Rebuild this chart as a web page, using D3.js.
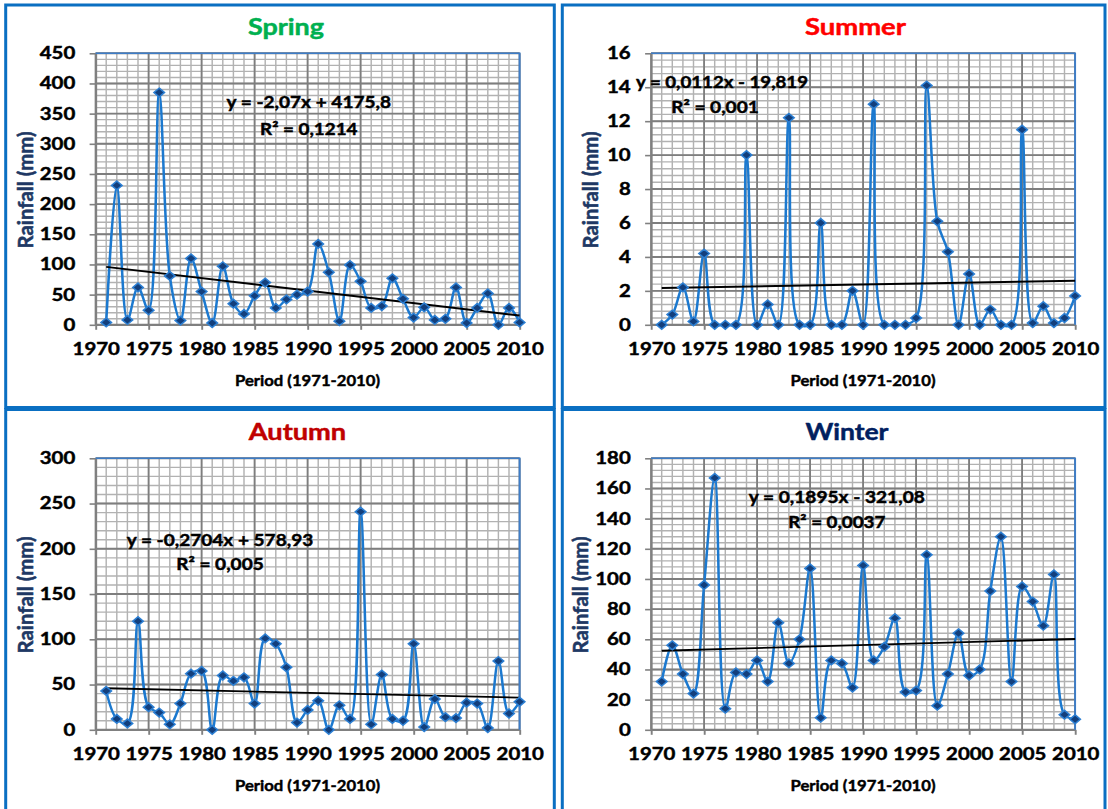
<!DOCTYPE html>
<html><head><meta charset="utf-8">
<script src="https://cdn.jsdelivr.net/npm/d3@7/dist/d3.min.js"></script>
<style>
html,body{margin:0;padding:0;background:#fff;}
svg{display:block;}
</style></head><body>
<svg id="c" width="1108" height="809"></svg>
<script>
// ---------- data ----------
const years = [1971,1972,1973,1974,1975,1976,1977,1978,1979,1980,
               1981,1982,1983,1984,1985,1986,1987,1988,1989,1990,
               1991,1992,1993,1994,1995,1996,1997,1998,1999,2000,
               2001,2002,2003,2004,2005,2006,2007,2008,2009,2010];
const spring = [4,231,8,62,24,385,81,7,110,55,3,97,35,18,48,70,28,42,50,55,
                134,87,6,99,72,28,31,77,43,12,29,8,10,62,3,28,52,0,28,4];
const summer = [0,0.6,2.2,0.2,4.2,0,0,0,10.0,0,1.2,0,12.2,0,0,6.0,0,0,2.0,0,
                13.0,0,0,0,0.4,14.1,6.1,4.3,0,3.0,0,0.9,0,0,11.5,0.1,1.1,0.1,0.4,1.7];
const autumn = [43,12,7,120,25,19,6,29,62,65,0,60,54,58,29,101,95,69,8,22,
                32,0,27,12,241,6,61,12,10,95,3,34,14,13,30,29,2,76,18,31];
const winter = [32,56,37,24,96,167,14,38,37,46,32,71,44,60,107,8,46,44,28,109,
                46,55,74,25,26,116,16,37,64,36,40,92,128,32,95,85,69,103,10,7];
const seasonTitles = ["Spring","Summer","Autumn","Winter"];
const eqLines = ["y = -2,07x + 4175,8","y = 0,0112x - 19,819","y = -0,2704x + 578,93","y = 0,1895x - 321,08"];
const r2Lines = ["R² = 0,1214","R² = 0,001","R² = 0,005","R² = 0,0037"];
const yMaxes = [450,16,300,180];
const ySteps = [50,2,50,20];
const xTicks = [1970,1975,1980,1985,1990,1995,2000,2005,2010];
const xLabel = "Period (1971-2010)";
const yLabel = "Rainfall (mm)";

// ---------- layout ----------
const SX = 1.2;              // horizontal stretch of the whole picture
const X = v => v / SX;
const FONT = "Lato, 'Open Sans', sans-serif";
const series = [spring, summer, autumn, winter];
const layout = [
  {col:0,row:0,color:"#00B050",titleX:286,titleW:76, eqX1:308.8,eqX2:308.8,eqY1:102,eqY2:129,eqW1:164.5,eqW2:97.5,ytX:25},
  {col:1,row:0,color:"#FF0000",titleX:300,titleW:101,eqX1:166.5,eqX2:159.5,eqY1:82, eqY2:107,eqW1:172, eqW2:87.5,ytX:35},
  {col:0,row:1,color:"#C00000",titleX:297.5,titleW:97.4,eqX1:220,eqX2:220,eqY1:135,eqY2:159,eqW1:186.5,eqW2:87.5,ytX:25},
  {col:1,row:1,color:"#002060",titleX:291.5,titleW:83,eqX1:281.3,eqX2:281.3,eqY1:92,eqY2:117,eqW1:176,eqW2:97,ytX:25}
];
const PL = 95.6, PR = 519.6, PT = 53.3, PB = 324.8;

const svg = d3.select("#c");
svg.append("rect").attr("width",1108).attr("height",809).attr("fill","#fff");

// panel frames (unstretched)
const frames = [[5.7,5,554.3,407.5],[562.3,5,1105,407.5],[5.7,409.5,554.3,820],[562.3,409.5,1105,820]];
frames.forEach(f => svg.append("rect")
  .attr("x",f[0]).attr("y",f[1]).attr("width",f[2]-f[0]).attr("height",f[3]-f[1])
  .attr("fill","none").attr("stroke","#0A6FC2").attr("stroke-width",3));

const root = svg.append("g").attr("transform",`scale(${SX},1)`);

function boldText(sel, size, color) {
  return sel.attr("font-family",FONT).attr("font-weight",700).attr("font-size",size)
    .attr("fill",color).attr("stroke",color).attr("stroke-width",0.45)
    .attr("stroke-linejoin","round");
}

series.forEach((vals, i) => {
  const L = layout[i];
  const g = root.append("g").attr("transform",`translate(${X(L.col*555.5)},${L.row*405})`);
  const x = d3.scaleLinear().domain([1970,2010]).range([X(PL),X(PR)]);
  const y = d3.scaleLinear().domain([0,yMaxes[i]]).range([PB,PT]);
  const step = ySteps[i];
  const yTicks = d3.range(0, yMaxes[i] + step/2, step);
  const yMinor = d3.range(0, yMaxes[i] + step/10, step/5);
  const xMinor = d3.range(1970, 2011, 1);

  // minor grid
  g.append("g").selectAll("line").data(xMinor).join("line")
    .attr("x1",d=>x(d)).attr("x2",d=>x(d)).attr("y1",PT).attr("y2",PB)
    .attr("stroke","#B2B2B2").attr("stroke-width",1.2);
  g.append("g").selectAll("line").data(yMinor).join("line")
    .attr("x1",X(PL)).attr("x2",X(PR)).attr("y1",d=>y(d)).attr("y2",d=>y(d))
    .attr("stroke","#B2B2B2").attr("stroke-width",1.4);
  // major grid
  g.append("g").selectAll("line").data(xTicks).join("line")
    .attr("x1",d=>x(d)).attr("x2",d=>x(d)).attr("y1",PT).attr("y2",PB)
    .attr("stroke","#7E7E7E").attr("stroke-width",1.5);
  g.append("g").selectAll("line").data(yTicks).join("line")
    .attr("x1",X(PL)).attr("x2",X(PR)).attr("y1",d=>y(d)).attr("y2",d=>y(d))
    .attr("stroke","#7E7E7E").attr("stroke-width",1.9);

  // axes
  const ya = g.append("g").attr("transform",`translate(${X(PL)},0)`)
    .call(d3.axisLeft(y).tickValues(yTicks).tickSize(5).tickSizeOuter(0).tickPadding(12));
  const xa = g.append("g").attr("transform",`translate(0,${PB})`)
    .call(d3.axisBottom(x).tickValues(xTicks).tickFormat(d3.format("d")).tickSize(5).tickSizeOuter(0).tickPadding(13));
  [ya, xa].forEach(a => {
    a.attr("font-family",FONT).attr("font-size",17).attr("font-weight",700);
    a.select(".domain").attr("stroke","#808080").attr("stroke-width",1.6);
    a.selectAll(".tick line").attr("stroke","#808080").attr("stroke-width",1.6);
    a.selectAll(".tick text").attr("fill","#000").attr("stroke","#000").attr("stroke-width",0.45);
  });

  // plot-area border (top & right)
  g.append("path").attr("d",`M${X(PL)},${PT}H${X(PR)}V${PB}`)
    .attr("fill","none").attr("stroke","#3D7DC8").attr("stroke-width",1.6);

  // series line
  const line = d3.line().x((d,k)=>x(years[k])).y(d=>y(d)).curve(d3.curveCatmullRom.alpha(0.5));
  g.append("path").datum(vals).attr("d",line)
    .attr("fill","none").attr("stroke","#1C79CF").attr("stroke-width",2.1);

  // linear trend (least squares from the data)
  const mx = d3.mean(years), my = d3.mean(vals);
  const b = d3.sum(years,(t,k)=>(t-mx)*(vals[k]-my)) / d3.sum(years,t=>(t-mx)*(t-mx));
  const a0 = my - b*mx;
  const tEnds = [years[0], years[years.length-1]];
  g.append("path").datum(tEnds)
    .attr("d", d3.line().x(t=>x(t)).y(t=>y(a0+b*t)))
    .attr("stroke","#000").attr("stroke-width",1.9).attr("fill","none");

  // markers
  const r = 4.4;
  g.append("g").selectAll("path").data(vals).join("path")
    .attr("transform",(d,k)=>`translate(${x(years[k])},${y(d)})`)
    .attr("d",`M0,${-r}L${r},0L0,${r}L${-r},0Z`)
    .attr("fill","#133F7C").attr("stroke","#2C7FD3").attr("stroke-width",1.4);

  // title
  boldText(g.append("text"), 22, L.color)
    .attr("x",X(L.titleX)).attr("y",27).attr("dy","0.36em").attr("text-anchor","middle")
    .attr("textLength",X(L.titleW)).attr("lengthAdjust","spacingAndGlyphs")
    .text(seasonTitles[i]);

  // equations
  [[eqLines[i],L.eqX1,L.eqY1,L.eqW1],[r2Lines[i],L.eqX2,L.eqY2,L.eqW2]].forEach(([t,xx,yy,w]) => {
    boldText(g.append("text"), 16.5, "#000")
      .attr("x",X(xx)).attr("y",yy).attr("dy","0.36em").attr("text-anchor","middle")
      .attr("textLength",X(w)).attr("lengthAdjust","spacingAndGlyphs")
      .text(t);
  });

  // axis titles
  boldText(g.append("text"), 15.5, "#000")
    .attr("x",X(307.5)).attr("y",380).attr("dy","0.36em").attr("text-anchor","middle")
    .attr("textLength",X(145)).attr("lengthAdjust","spacingAndGlyphs")
    .text(xLabel);
  boldText(g.append("text"), 18, "#203864")
    .attr("transform",`translate(${X(L.ytX)},190) rotate(-90)`)
    .attr("dy","0.36em").attr("text-anchor","middle")
    .attr("textLength",117).attr("lengthAdjust","spacingAndGlyphs")
    .text(yLabel);
});
</script>
</body></html>
